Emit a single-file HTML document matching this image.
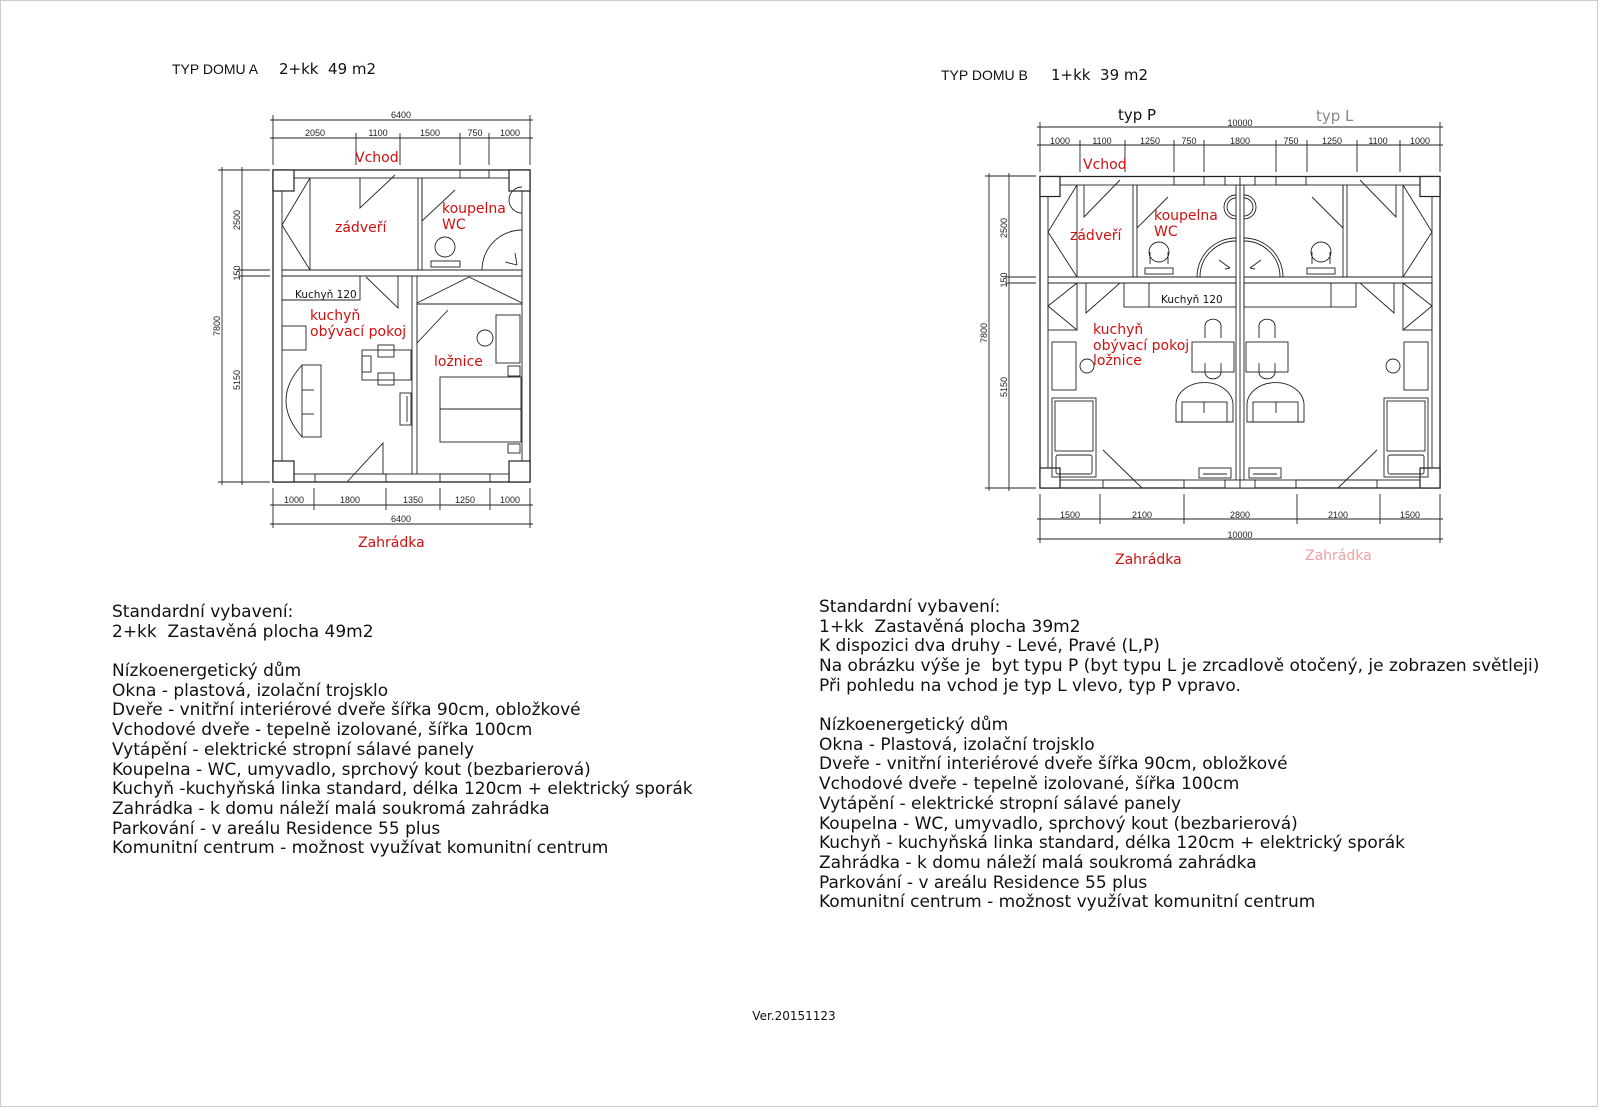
<!DOCTYPE html>
<html><head><meta charset="utf-8"><style>
html,body{margin:0;padding:0;background:#fff;}
svg{display:block;}
text{font-family:"DejaVu Sans","Liberation Sans",sans-serif;white-space:pre;}
.d{font-size:9px;fill:#222;font-family:"Liberation Sans",sans-serif;}
.r{fill:#d01010;font-size:14px;}
.t{font-size:17px;fill:#111;}
</style></head><body>
<svg width="1600" height="1108" viewBox="0 0 1600 1108" xmlns="http://www.w3.org/2000/svg" xml:space="preserve">
<rect x="0.5" y="0.5" width="1597" height="1106" fill="#fff" stroke="#ccc"/>
<text x="172" y="74" style="font-size:14px;font-family:'Liberation Sans Narrow','Liberation Sans',sans-serif" fill="#111">TYP DOMU A</text>
<text x="279" y="74" style="font-size:15px" fill="#111">2+kk  49 m2</text>
<text x="941" y="80" style="font-size:14px;font-family:'Liberation Sans Narrow','Liberation Sans',sans-serif" fill="#111">TYP DOMU B</text>
<text x="1051" y="80" style="font-size:15px" fill="#111">1+kk  39 m2</text>

<g stroke="#222" stroke-width="0.9" fill="none">
<line x1="270" y1="120" x2="533" y2="120"/><line x1="270" y1="138" x2="533" y2="138"/>
<line x1="273" y1="115" x2="273" y2="165"/><line x1="356" y1="133" x2="356" y2="165"/><line x1="400" y1="133" x2="400" y2="165"/><line x1="460" y1="133" x2="460" y2="165"/><line x1="489" y1="133" x2="489" y2="165"/><line x1="530" y1="115" x2="530" y2="165"/>
<line x1="270" y1="505" x2="533" y2="505"/><line x1="270" y1="524" x2="533" y2="524"/>
<line x1="273" y1="488" x2="273" y2="528"/><line x1="314" y1="488" x2="314" y2="510"/><line x1="386" y1="488" x2="386" y2="510"/><line x1="440" y1="488" x2="440" y2="510"/><line x1="490" y1="488" x2="490" y2="510"/><line x1="530" y1="488" x2="530" y2="528"/>
<line x1="222" y1="167" x2="222" y2="485"/><line x1="242" y1="167" x2="242" y2="485"/>
<line x1="218" y1="170" x2="270" y2="170"/><line x1="218" y1="482" x2="270" y2="482"/>
<line x1="238" y1="270" x2="270" y2="270"/><line x1="238" y1="276" x2="270" y2="276"/>
<rect x="273" y="170" width="257" height="312" stroke-width="1.3"/>
<rect x="282" y="178" width="240" height="296"/>
<rect x="273" y="170" width="21" height="21" fill="#fff" stroke-width="1.2"/>
<rect x="509" y="170" width="21" height="21" fill="#fff" stroke-width="1.2"/>
<rect x="273" y="461" width="21" height="21" fill="#fff" stroke-width="1.2"/>
<rect x="509" y="461" width="21" height="21" fill="#fff" stroke-width="1.2"/>
<line x1="282" y1="270" x2="522" y2="270"/><line x1="282" y1="276" x2="522" y2="276"/>
<line x1="418" y1="178" x2="418" y2="270"/><line x1="422" y1="178" x2="422" y2="270"/>
<line x1="412" y1="276" x2="412" y2="474"/><line x1="417" y1="276" x2="417" y2="474"/>
<rect x="460" y="170" width="29" height="8"/><rect x="315" y="474" width="71" height="8"/><rect x="440" y="474" width="50" height="8"/>
<line x1="310" y1="178" x2="310" y2="270"/><polyline points="310,178 282,225 310,270"/>
<polyline points="360,178 360,208 395,175"/>
<polyline points="422,178 422,221 455,190"/>
<path d="M522,187 A13,13 0 0,0 522,213"/>
<path d="M482,270 A40,40 0 0,1 522,230"/><line x1="505" y1="262" x2="517" y2="265"/><line x1="515" y1="253" x2="517" y2="265"/>
<circle cx="445" cy="247" r="10"/><rect x="431" y="261" width="29" height="6"/>
<polyline points="282,300 360,300 360,276"/>
<polyline points="398,276 398,308 366,277"/>
<line x1="417" y1="304" x2="522" y2="304"/><polyline points="417,303 469,277 522,303"/>
<polyline points="417,304 417,343 448,310"/>
<rect x="496" y="315" width="24" height="48"/><circle cx="485" cy="338" r="8"/>
<rect x="508" y="366" width="12" height="10"/><rect x="440" y="377" width="81" height="65"/><line x1="440" y1="409" x2="521" y2="409"/>
<rect x="508" y="444" width="12" height="9"/>
<rect x="282" y="326" width="24" height="24"/>
<rect x="362" y="350" width="49" height="30"/>
<rect x="378" y="345" width="16" height="12"/>
<rect x="378" y="373" width="16" height="12"/><rect x="362" y="356" width="9" height="16"/>
<rect x="302" y="365" width="19" height="72"/><path d="M302,365 Q270,400 302,437"/><line x1="302" y1="390" x2="314" y2="390"/><line x1="302" y1="414" x2="314" y2="414"/>
<rect x="400" y="393" width="11" height="32"/><line x1="407" y1="396" x2="407" y2="422"/>
<polyline points="347,482 383,443 383,474"/>

<line x1="1037" y1="127" x2="1443" y2="127"/><line x1="1037" y1="145" x2="1443" y2="145"/>
<line x1="1040" y1="122" x2="1040" y2="172"/><line x1="1440" y1="122" x2="1440" y2="172"/>
<line x1="1080" y1="140" x2="1080" y2="172"/><line x1="1125" y1="140" x2="1125" y2="172"/><line x1="1174" y1="140" x2="1174" y2="172"/><line x1="1204" y1="140" x2="1204" y2="172"/><line x1="1276" y1="140" x2="1276" y2="172"/><line x1="1307" y1="140" x2="1307" y2="172"/><line x1="1357" y1="140" x2="1357" y2="172"/><line x1="1400" y1="140" x2="1400" y2="172"/>
<line x1="1037" y1="519" x2="1443" y2="519"/><line x1="1037" y1="539" x2="1443" y2="539"/>
<line x1="1040" y1="494" x2="1040" y2="543"/><line x1="1440" y1="494" x2="1440" y2="543"/>
<line x1="1100" y1="494" x2="1100" y2="524"/><line x1="1184" y1="494" x2="1184" y2="524"/><line x1="1297" y1="494" x2="1297" y2="524"/><line x1="1380" y1="494" x2="1380" y2="524"/>
<line x1="989" y1="173" x2="989" y2="491"/><line x1="1009" y1="173" x2="1009" y2="491"/>
<line x1="985" y1="176" x2="1036" y2="176"/><line x1="985" y1="488" x2="1036" y2="488"/>
<line x1="1005" y1="277" x2="1036" y2="277"/><line x1="1005" y1="283" x2="1036" y2="283"/>
<rect x="1040" y="176.5" width="400" height="311.5" stroke-width="1.3"/>
<rect x="1048" y="185" width="188" height="295"/><rect x="1244" y="185" width="188" height="295"/>
<line x1="1240" y1="176" x2="1240" y2="488"/>
<g id="half">
<rect x="1040" y="176.5" width="20" height="20" fill="#fff" stroke-width="1.2"/>
<rect x="1040" y="468" width="20" height="20" fill="#fff" stroke-width="1.2"/>
<rect x="1225" y="176.5" width="15" height="8.5" fill="#fff"/>
<rect x="1225" y="480" width="15" height="8" fill="#fff"/>
<line x1="1048" y1="277" x2="1236" y2="277"/><line x1="1048" y1="283" x2="1236" y2="283"/>
<line x1="1133" y1="185" x2="1133" y2="277"/><line x1="1137" y1="185" x2="1137" y2="277"/>
<rect x="1174" y="176.5" width="30" height="8.5"/><rect x="1103" y="480" width="81" height="8"/>
<line x1="1077" y1="185" x2="1077" y2="277"/><polyline points="1077,185 1048,232 1077,277"/>
<polyline points="1084,185 1084,217 1120,180"/>
<polyline points="1137,185 1137,228 1168,197"/>
<path d="M1236,195 A12,12 0 0,0 1236,219"/><path d="M1236,198 A9,9 0 0,0 1236,216"/>
<path d="M1197,277 A39,39 0 0,1 1236,238"/><path d="M1200,277 A36,36 0 0,1 1236,241"/>
<line x1="1225" y1="269" x2="1230" y2="268"/><line x1="1219" y1="260" x2="1230" y2="268"/>
<circle cx="1159" cy="252" r="10"/><rect x="1145" y="268" width="28" height="6"/><line x1="1150" y1="252" x2="1150" y2="264"/><line x1="1168" y1="252" x2="1168" y2="264"/>
<rect x="1048" y="283" width="29" height="47"/><polyline points="1077,283 1048,306 1077,330"/>
<polyline points="1086,283 1086,313 1120,283"/>
<rect x="1124" y="283" width="112" height="24"/><line x1="1149" y1="283" x2="1149" y2="307"/>
<rect x="1052" y="342" width="24" height="48"/><circle cx="1087" cy="366" r="7"/>
<rect x="1052" y="398" width="44" height="79"/><rect x="1055" y="401" width="38" height="50"/><rect x="1056" y="455" width="36" height="19" rx="2"/>
<rect x="1192" y="342" width="42" height="30"/>
<path d="M1205,338 L1205,326 A7,6 0 0,1 1221,326 L1221,338"/><path d="M1205,363 L1205,372 A7,6 0 0,0 1221,372 L1221,363"/>
<path d="M1176,422 L1176,405 A28,22 0 0,1 1233,405 L1233,422 Z"/><rect x="1182" y="402" width="45" height="20"/><line x1="1204" y1="402" x2="1204" y2="413"/>
<polyline points="1103,450 1142,488"/>
<rect x="1199" y="468" width="32" height="10"/><line x1="1203" y1="474" x2="1227" y2="474"/>
</g>
<use href="#half" transform="translate(2480,0) scale(-1,1)"/>
</g>

<text class="d" x="401" y="118" text-anchor="middle">6400</text>
<text class="d" x="315" y="136" text-anchor="middle">2050</text>
<text class="d" x="378" y="136" text-anchor="middle">1100</text>
<text class="d" x="430" y="136" text-anchor="middle">1500</text>
<text class="d" x="475" y="136" text-anchor="middle">750</text>
<text class="d" x="510" y="136" text-anchor="middle">1000</text>
<text class="d" x="294" y="503" text-anchor="middle">1000</text>
<text class="d" x="350" y="503" text-anchor="middle">1800</text>
<text class="d" x="413" y="503" text-anchor="middle">1350</text>
<text class="d" x="465" y="503" text-anchor="middle">1250</text>
<text class="d" x="510" y="503" text-anchor="middle">1000</text>
<text class="d" x="401" y="522" text-anchor="middle">6400</text>
<text class="d" transform="translate(220,326) rotate(-90)" text-anchor="middle">7800</text>
<text class="d" transform="translate(240,220) rotate(-90)" text-anchor="middle">2500</text>
<text class="d" transform="translate(240,273) rotate(-90)" text-anchor="middle">150</text>
<text class="d" transform="translate(240,380) rotate(-90)" text-anchor="middle">5150</text>
<text class="d" x="1240" y="126" text-anchor="middle">10000</text>
<text class="d" x="1060" y="144" text-anchor="middle">1000</text>
<text class="d" x="1102" y="144" text-anchor="middle">1100</text>
<text class="d" x="1150" y="144" text-anchor="middle">1250</text>
<text class="d" x="1189" y="144" text-anchor="middle">750</text>
<text class="d" x="1240" y="144" text-anchor="middle">1800</text>
<text class="d" x="1291" y="144" text-anchor="middle">750</text>
<text class="d" x="1332" y="144" text-anchor="middle">1250</text>
<text class="d" x="1378" y="144" text-anchor="middle">1100</text>
<text class="d" x="1420" y="144" text-anchor="middle">1000</text>
<text class="d" x="1070" y="518" text-anchor="middle">1500</text>
<text class="d" x="1142" y="518" text-anchor="middle">2100</text>
<text class="d" x="1240" y="518" text-anchor="middle">2800</text>
<text class="d" x="1338" y="518" text-anchor="middle">2100</text>
<text class="d" x="1410" y="518" text-anchor="middle">1500</text>
<text class="d" x="1240" y="538" text-anchor="middle">10000</text>
<text class="d" transform="translate(987,333) rotate(-90)" text-anchor="middle">7800</text>
<text class="d" transform="translate(1007,228) rotate(-90)" text-anchor="middle">2500</text>
<text class="d" transform="translate(1007,280) rotate(-90)" text-anchor="middle">150</text>
<text class="d" transform="translate(1007,387) rotate(-90)" text-anchor="middle">5150</text>

<text class="r" x="355" y="162">Vchod</text>
<text class="r" x="335" y="232">zádveří</text>
<text class="r" x="442" y="213">koupelna</text>
<text class="r" x="442" y="229">WC</text>
<text x="295" y="298" style="font-size:10.5px" fill="#111">Kuchyň 120</text>
<text class="r" x="310" y="320">kuchyň</text>
<text class="r" x="310" y="336">obývací pokoj</text>
<text class="r" x="434" y="366">ložnice</text>
<text class="r" x="358" y="547">Zahrádka</text>
<text x="1118" y="120" style="font-size:15px" fill="#111">typ P</text>
<text x="1316" y="121" style="font-size:15px" fill="#888">typ L</text>
<text class="r" x="1083" y="169">Vchod</text>
<text class="r" x="1070" y="240">zádveří</text>
<text class="r" x="1154" y="220">koupelna</text>
<text class="r" x="1154" y="236">WC</text>
<text x="1161" y="303" style="font-size:10.5px" fill="#111">Kuchyň 120</text>
<text class="r" x="1093" y="334">kuchyň</text>
<text class="r" x="1093" y="350">obývací pokoj</text>
<text class="r" x="1093" y="365">ložnice</text>
<text class="r" x="1115" y="564">Zahrádka</text>
<text class="r" x="1305" y="560" style="fill:#f0a0a0">Zahrádka</text>

<text class="t" x="112" y="617">Standardní vybavení:</text>
<text class="t" x="112" y="637">2+kk  Zastavěná plocha 49m2</text>
<text class="t" x="112" y="676">Nízkoenergetický dům</text>
<text class="t" x="112" y="696">Okna - plastová, izolační trojsklo</text>
<text class="t" x="112" y="715">Dveře - vnitřní interiérové dveře šířka 90cm, obložkové</text>
<text class="t" x="112" y="735">Vchodové dveře - tepelně izolované, šířka 100cm</text>
<text class="t" x="112" y="755">Vytápění - elektrické stropní sálavé panely</text>
<text class="t" x="112" y="775">Koupelna - WC, umyvadlo, sprchový kout (bezbarierová)</text>
<text class="t" x="112" y="794">Kuchyň -kuchyňská linka standard, délka 120cm + elektrický sporák</text>
<text class="t" x="112" y="814">Zahrádka - k domu náleží malá soukromá zahrádka</text>
<text class="t" x="112" y="834">Parkování - v areálu Residence 55 plus</text>
<text class="t" x="112" y="853">Komunitní centrum - možnost využívat komunitní centrum</text>

<text class="t" x="819" y="612">Standardní vybavení:</text>
<text class="t" x="819" y="632">1+kk  Zastavěná plocha 39m2</text>
<text class="t" x="819" y="651">K dispozici dva druhy - Levé, Pravé (L,P)</text>
<text class="t" x="819" y="671">Na obrázku výše je  byt typu P (byt typu L je zrcadlově otočený, je zobrazen světleji)</text>
<text class="t" x="819" y="691">Při pohledu na vchod je typ L vlevo, typ P vpravo.</text>
<text class="t" x="819" y="730">Nízkoenergetický dům</text>
<text class="t" x="819" y="750">Okna - Plastová, izolační trojsklo</text>
<text class="t" x="819" y="769">Dveře - vnitřní interiérové dveře šířka 90cm, obložkové</text>
<text class="t" x="819" y="789">Vchodové dveře - tepelně izolované, šířka 100cm</text>
<text class="t" x="819" y="809">Vytápění - elektrické stropní sálavé panely</text>
<text class="t" x="819" y="829">Koupelna - WC, umyvadlo, sprchový kout (bezbarierová)</text>
<text class="t" x="819" y="848">Kuchyň - kuchyňská linka standard, délka 120cm + elektrický sporák</text>
<text class="t" x="819" y="868">Zahrádka - k domu náleží malá soukromá zahrádka</text>
<text class="t" x="819" y="888">Parkování - v areálu Residence 55 plus</text>
<text class="t" x="819" y="907">Komunitní centrum - možnost využívat komunitní centrum</text>

<text x="794" y="1020" text-anchor="middle" style="font-size:12px" fill="#111">Ver.20151123</text>
</svg>
</body></html>
